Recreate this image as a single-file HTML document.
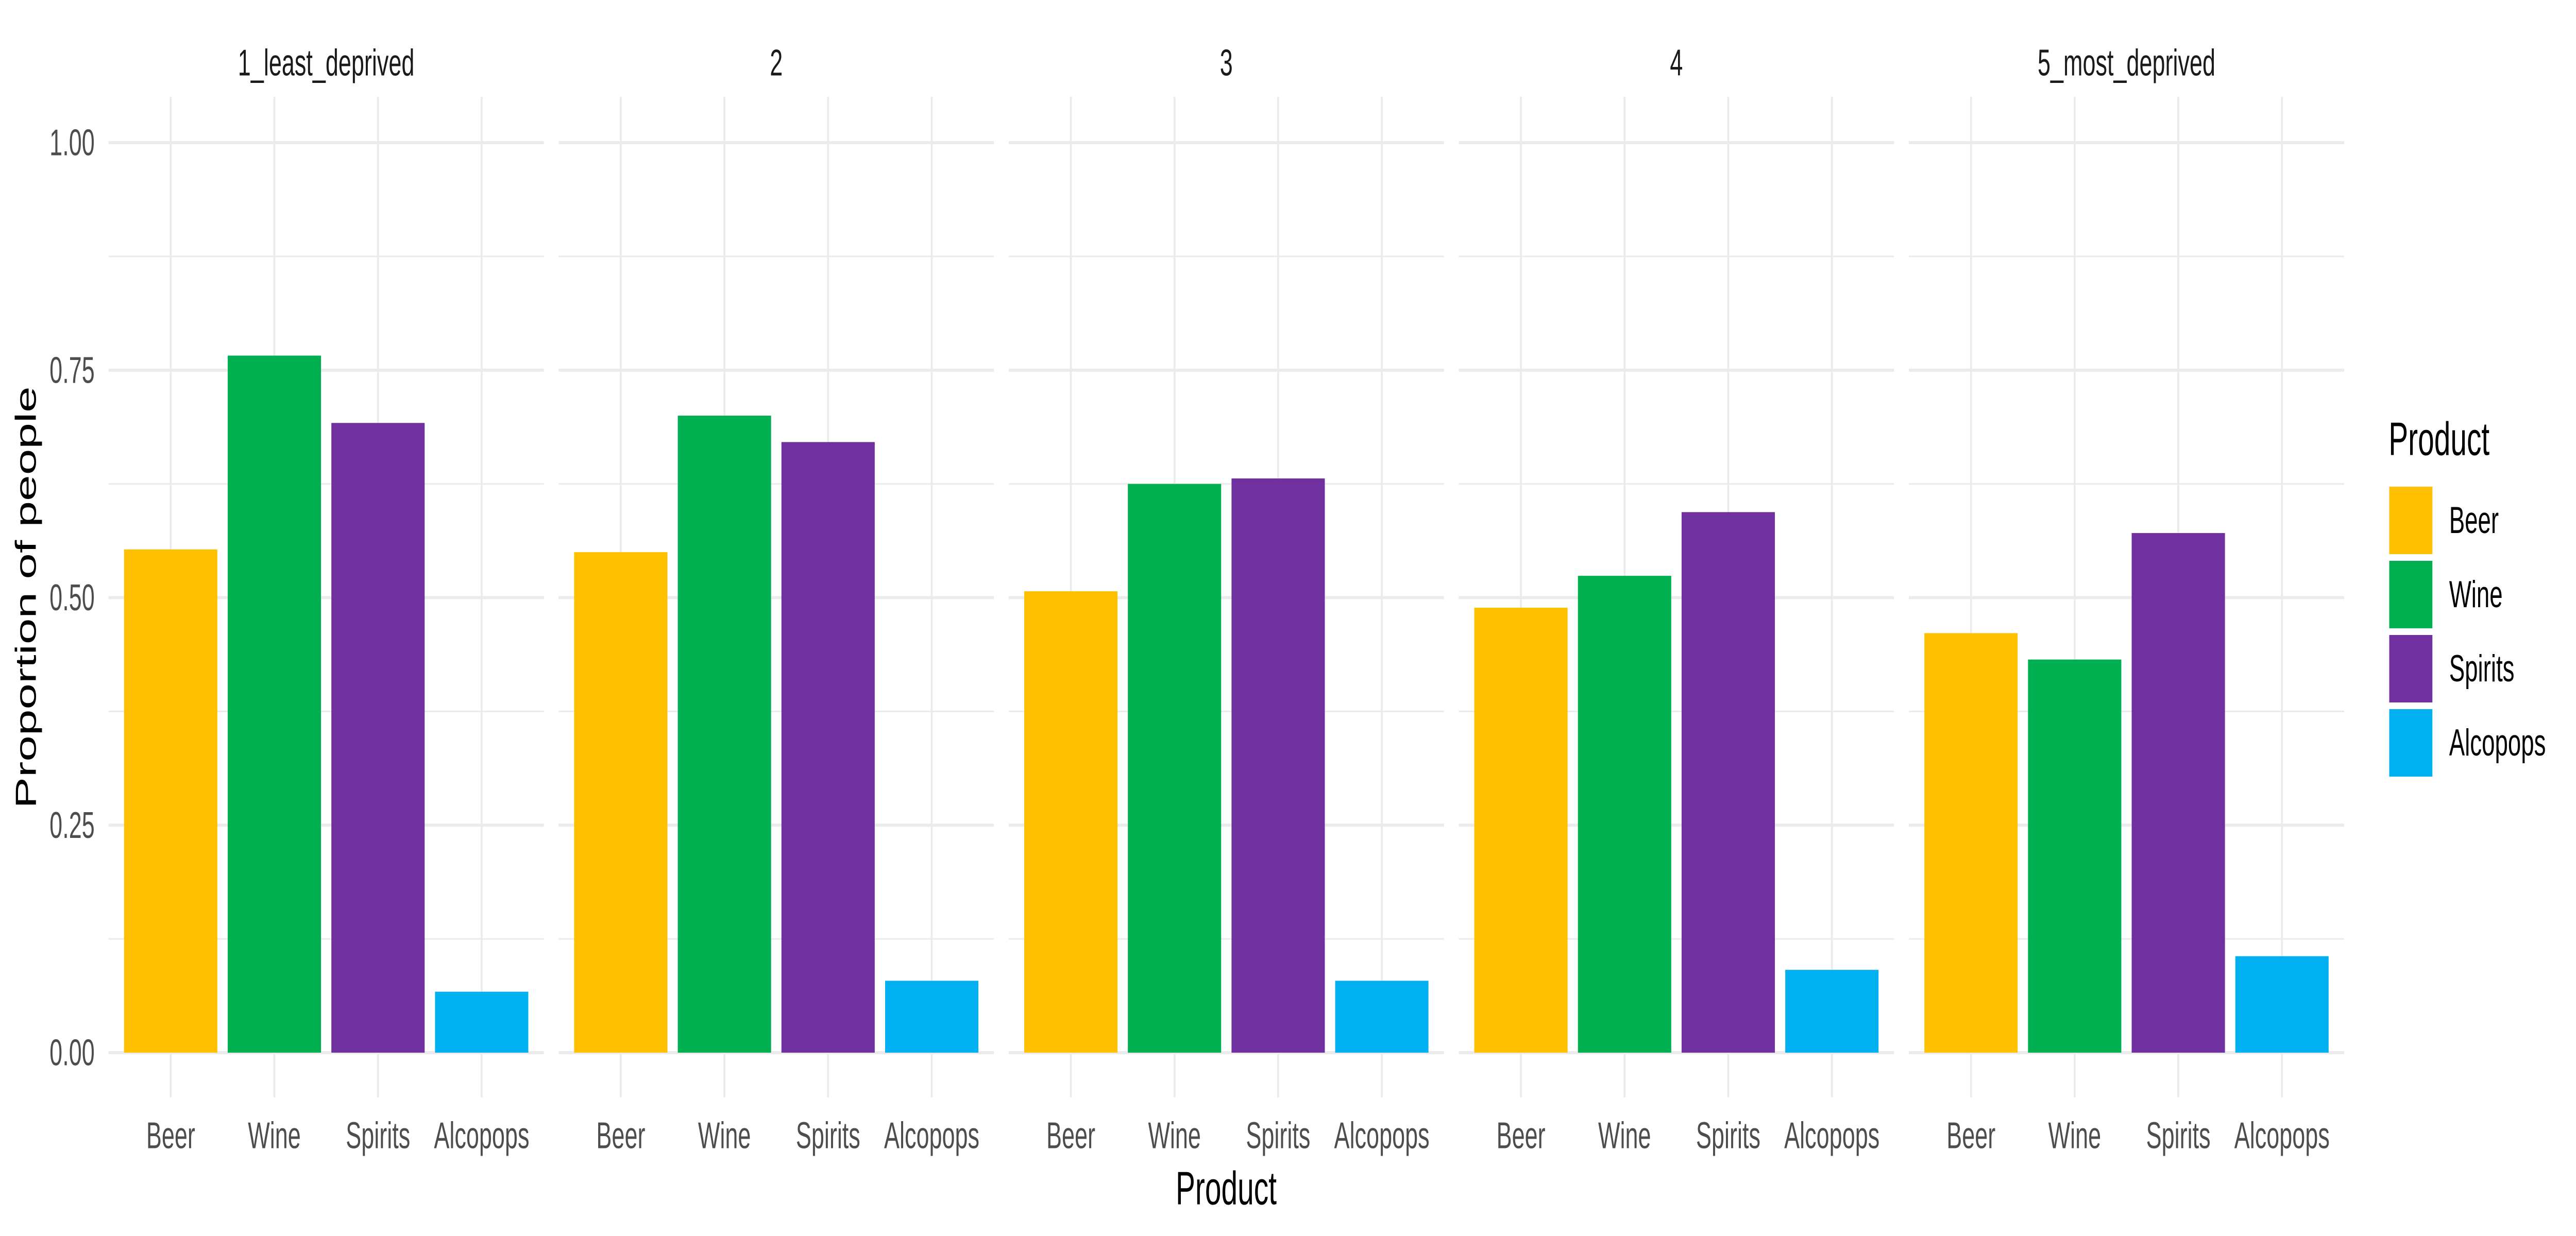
<!DOCTYPE html>
<html><head><meta charset="utf-8"><style>
html,body{margin:0;padding:0;background:#fff;width:100%;height:100%;overflow:hidden;}
svg{display:block;font-family:"Liberation Sans",sans-serif;width:100vw;height:100vh;}
</style></head><body>
<svg id="chart" viewBox="0 0 8000 2400" preserveAspectRatio="none" xmlns="http://www.w3.org/2000/svg">
<rect width="8000" height="2400" fill="#fff"/>
<g id="panels"></g>
<text x="81" y="1160" transform="rotate(-90 81 1160)" text-anchor="middle" dominant-baseline="central" font-size="91" fill="#000">Proportion of people</text>
<text x="3808" y="2308" text-anchor="middle" dominant-baseline="central" font-size="91" fill="#000">Product</text>
<g id="legend"></g>
</svg>
<script>
const facets = ["1_least_deprived","2","3","4","5_most_deprived"];
const categories = ["Beer","Wine","Spirits","Alcopops"];
const colors = ["#FFC000","#00B050","#7030A0","#00B0F0"];
const beer = [0.553,0.550,0.507,0.489,0.461];
const wine = [0.766,0.700,0.625,0.524,0.432];
const spirits = [0.692,0.671,0.631,0.594,0.571];
const alcopops = [0.067,0.079,0.079,0.091,0.106];
const yTicks = [0,0.25,0.5,0.75,1];
const yTickLabels = ["0.00","0.25","0.50","0.75","1.00"];
const yMinor = [0.125,0.375,0.625,0.875];

const NS="http://www.w3.org/2000/svg";
const series=[beer,wine,spirits,alcopops];
const P0=337, PW=1352, PSTEP=1397.75, PTOP=188, PBOT=2131;
const Y0=2044, Y1=277;
function y(v){return Y0+(Y1-Y0)*v;}
const unit=PW/4.2;
function x(p,i){return P0+p*PSTEP+unit*(0.6+i);}
function mk(tag,attrs,parent){const e=document.createElementNS(NS,tag);for(const k in attrs)e.setAttribute(k,attrs[k]);parent.appendChild(e);return e;}
const panels=document.getElementById('panels');
facets.forEach((f,p)=>{
  const g=mk('g',{},panels);
  
  
  const left=P0+p*PSTEP;
  yMinor.forEach(v=>{const l=mk('line',{x1:left,x2:left+PW,y1:y(v),y2:y(v),stroke:'#ebebeb','stroke-width':3},g);
    
    });
  yTicks.forEach(v=>{const l=mk('line',{x1:left,x2:left+PW,y1:y(v),y2:y(v),stroke:'#ebebeb','stroke-width':6},g);
    
    });
  categories.forEach((c,i)=>{const l=mk('line',{x1:x(p,i),x2:x(p,i),y1:PTOP,y2:PBOT,stroke:'#ebebeb','stroke-width':6},g);
    
    });
  categories.forEach((c,i)=>{
    const v=series[i][p];const bw=unit*0.9;
    const r=mk('rect',{x:x(p,i)-bw/2,y:y(v),width:bw,height:Y0-y(v),fill:colors[i]},g);
    
    
    const t=mk('text',{x:x(p,i),y:2205,'text-anchor':'middle','dominant-baseline':'central','font-size':72,fill:'#4d4d4d'},g);
    t.textContent=c;
    
    
  });
  const st=mk('text',{x:left+PW/2,y:122,'text-anchor':'middle','dominant-baseline':'central','font-size':72,fill:'#1a1a1a'},g);
  st.textContent=f;
  
  
});
yTicks.forEach((v,i)=>{
  const t=mk('text',{x:294,y:y(v),'text-anchor':'end','dominant-baseline':'central','font-size':72,fill:'#4d4d4d'},panels);
  t.textContent=yTickLabels[i];
  
  
});
const lg=document.getElementById('legend');
const lt=mk('text',{x:7418,y:853,'dominant-baseline':'central','font-size':91,fill:'#000'},lg);
lt.textContent='Product';


categories.forEach((c,i)=>{
  const top=945+i*144;
  const r=mk('rect',{x:7420,y:top,width:134,height:131,fill:colors[i]},lg);
  
  
  const t=mk('text',{x:7606,y:top+65,'dominant-baseline':'central','font-size':73,fill:'#000'},lg);
  t.textContent=c;
  
  
});
</script>
</body></html>
